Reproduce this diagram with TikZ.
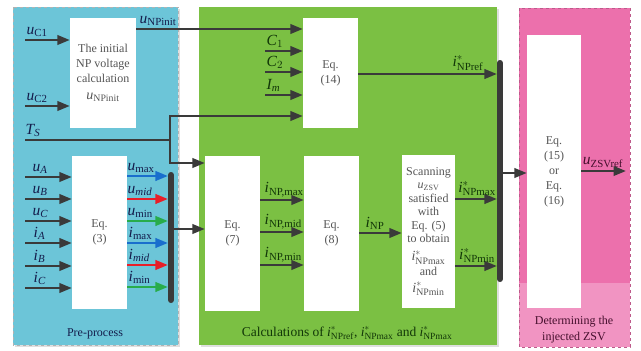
\documentclass[tikz,border=0pt]{standalone}
\usepackage{fontspec}
\setmainfont{Liberation Serif}
\usepackage{amsmath}
\usetikzlibrary{arrows.meta,calc}
\definecolor{bluebg}{RGB}{108,197,216}
\definecolor{greenbg}{RGB}{123,192,67}
\definecolor{pinkbg}{RGB}{236,112,172}
\definecolor{pinklt}{RGB}{241,148,194}
\definecolor{darkln}{RGB}{58,58,58}
\definecolor{arrblue}{RGB}{25,110,205}
\definecolor{arrred}{RGB}{232,30,40}
\definecolor{arrgreen}{RGB}{40,172,75}
\definecolor{labblue}{RGB}{20,28,75}
\definecolor{labgreen}{RGB}{18,55,8}
\definecolor{labpink}{RGB}{70,15,45}
\definecolor{boxtxt}{RGB}{85,85,85}
\newcommand{\lbl}[2]{$\textit{#1}_{\text{#2}}$}
\newcommand{\lbli}[2]{$\textit{#1}_{\textit{#2}}$}
\newcommand{\lbls}[2]{$\textit{#1}^{*}_{\text{#2}}$}
\newcommand{\bigtxt}[1]{{\fontsize{14}{14}\selectfont #1}}
\begin{document}
\begin{tikzpicture}[x=1pt,y=-1pt,
  eqbox/.style={fill=white, inner sep=0pt, align=center, text=boxtxt,
    font=\fontsize{12}{15}\selectfont},
  arr/.style={draw=darkln, line width=2.4pt, -{Triangle[length=12.5pt,width=9.5pt]}},
  ln/.style={draw=darkln, line width=2.4pt},
  barnode/.style={fill=darkln, rounded corners=2.8pt, inner sep=0pt, minimum width=5.8pt},
  lab/.style={font=\fontsize{15.5}{16}\selectfont, inner sep=0.5pt},
  captext/.style={font=\fontsize{12}{15}\selectfont, align=center}]
\useasboundingbox (0,0) rectangle (641,351);
\fill[white] (0,0) rectangle (641,351);
% regions
\fill[gray!25] (15,9) rectangle (180,347);
\fill[bluebg] (13,7) rectangle (178,345);
\draw[gray!60, dashed, line width=0.5pt] (13,7) rectangle (178,345);
\fill[gray!25] (201,9) rectangle (499,347);
\fill[greenbg] (199,7) rectangle (497,345);
\fill[pinkbg] (519,8) rectangle (630,347);
\fill[pinklt] (519,283) rectangle (630,347);
\draw[pinkbg!80!black, dashed, line width=0.5pt] (519,8) rectangle (630,347);
% boxes
\node[eqbox, minimum width=66pt, minimum height=110pt] (init) at (103,73)
  {The initial\\NP voltage\\calculation\\[2pt]\bigtxt{\lbl{u}{NPinit}}};
\node[eqbox, minimum width=55pt, minimum height=153pt] (eq3) at (99.5,232.5) {Eq.\\(3)};
\node[eqbox, minimum width=55pt, minimum height=110pt] (eq14) at (330.5,73) {Eq.\\(14)};
\node[eqbox, minimum width=55pt, minimum height=155pt] (eq7) at (232.5,233.5) {Eq.\\(7)};
\node[eqbox, minimum width=55pt, minimum height=155pt] (eq8) at (331.5,233.5) {Eq.\\(8)};
\node[eqbox, minimum width=53pt, minimum height=153pt, font=\fontsize{12}{13.5}\selectfont] (scan) at (428.5,231.5)
  {Scanning\\\lbl{u}{ZSV}\\satisfied\\with\\Eq. (5)\\to obtain\\[4.5pt]\bigtxt{\lbls{i}{NPmax}}\\[1.5pt]and\\[3pt]\bigtxt{\lbls{i}{NPmin}}};
\node[eqbox, minimum width=54pt, minimum height=273pt] (eq15) at (554,171.5) {Eq.\\(15)\\or\\Eq.\\(16)};
% bars
\node[barnode, minimum height=131pt] (bar1) at (171,237.5) {};
\node[barnode, minimum height=222pt] (bar2) at (500,171) {};
% free ends
\coordinate (uc1) at (25,40);
\coordinate (uc2) at (25,106);
\coordinate (ts) at (25,140);
\coordinate (tsj) at (170,140);
\coordinate (ua) at (25,177);
\coordinate (ub) at (25,199);
\coordinate (uc) at (25,221);
\coordinate (ia) at (25,243);
\coordinate (ib) at (25,266);
\coordinate (ic) at (25,288);
\coordinate (c1) at (265,51);
\coordinate (c2) at (265,72);
\coordinate (im) at (265,95);
\coordinate (zsv) at (626,171);
% connectors
\draw[arr] (uc1) -- (uc1 -| init.west);
\draw[arr] (uc2) -- (uc2 -| init.west);
\draw[ln] (ts) -- (tsj);
\draw[arr] (tsj) |- (eq14.west |- 0,116);
\draw[arr] (tsj) |- (eq7.west |- 0,163);
\draw[arr] (init.east |- 0,29) -- (eq14.west |- 0,29);
\foreach \c in {ua,ub,uc,ia,ib,ic} \draw[arr] (\c) -- (\c -| eq3.west);
\draw[arr, draw=arrblue] (eq3.east |- 0,176) -- (bar1.west |- 0,176);
\draw[arr, draw=arrred] (eq3.east |- 0,199) -- (bar1.west |- 0,199);
\draw[arr, draw=arrgreen] (eq3.east |- 0,221) -- (bar1.west |- 0,221);
\draw[arr, draw=arrblue] (eq3.east |- 0,243) -- (bar1.west |- 0,243);
\draw[arr, draw=arrred] (eq3.east |- 0,265) -- (bar1.west |- 0,265);
\draw[arr, draw=arrgreen] (eq3.east |- 0,287) -- (bar1.west |- 0,287);
\draw[arr] (bar1.east |- 0,229) -- (eq7.west |- 0,229);
\foreach \c in {c1,c2,im} \draw[arr] (\c) -- (\c -| eq14.west);
\draw[arr] (eq14.east |- 0,74) -- (bar2.west |- 0,74);
\draw[arr] (eq7.east |- 0,200) -- (eq8.west |- 0,200);
\draw[arr] (eq7.east |- 0,232) -- (eq8.west |- 0,232);
\draw[arr] (eq7.east |- 0,265) -- (eq8.west |- 0,265);
\draw[arr] (eq8.east |- 0,233) -- (scan.west |- 0,233);
\draw[arr] (scan.east |- 0,199) -- (bar2.west |- 0,199);
\draw[arr] (scan.east |- 0,266) -- (bar2.west |- 0,266);
\draw[arr] (bar2.east |- 0,173) -- (eq15.west |- 0,173);
\draw[arr] (eq15.east |- 0,171) -- (zsv);
% labels (blue region)
\begin{scope}[every node/.style={lab, text=labblue}]
\node[anchor=south west] (luc1) at (26,37.5) {\lbl{u}{C1}};
\node[anchor=south west] (luc2) at (26,103.5) {\lbl{u}{C2}};
\node[anchor=south west] (lts) at (25,137.5) {\lbli{T}{S}};
\node[anchor=south] (lnp) at (158,26.5) {\lbl{u}{NPinit}};
\node[anchor=south west] (lua) at (32,174.5) {\lbli{u}{A}};
\node[anchor=south west] (lub) at (32,196.5) {\lbli{u}{B}};
\node[anchor=south west] (luc) at (32,218.5) {\lbli{u}{C}};
\node[anchor=south west] (lia) at (33,240.5) {\lbli{i}{A}};
\node[anchor=south west] (lib) at (33,263.5) {\lbli{i}{B}};
\node[anchor=south west] (lic) at (33,285.5) {\lbli{i}{C}};
\node[anchor=south west] (lumax) at (127,173.5) {\lbl{u}{max}};
\node[anchor=south west] (lumid) at (127,196.5) {\lbli{u}{mid}};
\node[anchor=south west] (lumin) at (127,218.5) {\lbl{u}{min}};
\node[anchor=south west] (limax) at (128,240.5) {\lbl{i}{max}};
\node[anchor=south west] (limid) at (128,262.5) {\lbli{i}{mid}};
\node[anchor=south west] (limin) at (128,284.5) {\lbl{i}{min}};
\end{scope}
% labels (green region)
\begin{scope}[every node/.style={lab, text=labgreen}]
\node[anchor=south west] (lc1) at (266,48.5) {$\textit{C}_{1}$};
\node[anchor=south west] (lc2) at (266,69.5) {$\textit{C}_{2}$};
\node[anchor=south west] (lim) at (266,92.5) {$\textit{I}_{\textit{m}}$};
\node[anchor=south] (lref) at (468,71.5) {\lbls{i}{NPref}};
\node[anchor=south west] (lnpmax) at (264,197.5) {\lbl{i}{NP,max}};
\node[anchor=south west] (lnpmid) at (264,229.5) {\lbl{i}{NP,mid}};
\node[anchor=south west] (lnpmin) at (264,262.5) {\lbl{i}{NP,min}};
\node[anchor=south] (linp) at (375,230.5) {\lbl{i}{NP}};
\node[anchor=south] (lsmax) at (477,196.5) {\lbls{i}{NPmax}};
\node[anchor=south] (lsmin) at (477,263.5) {\lbls{i}{NPmin}};
\end{scope}
\node[lab, text=labpink, anchor=south] (lzsv) at (603,168.5) {\lbl{u}{ZSVref}};
% captions
\node[captext, text=labblue] (cap1) at (95,334) {Pre-process};
\node[captext, text=labgreen, font=\fontsize{13.5}{15}\selectfont] (cap2) at (347,333)
  {Calculations of \lbls{i}{NPref}, \lbls{i}{NPmax} and \lbls{i}{NPmax}};
\node[captext, text=labpink, font=\fontsize{12}{16}\selectfont] (cap3) at (574,330) {Determining the\\injected ZSV};
\end{tikzpicture}
\end{document}
